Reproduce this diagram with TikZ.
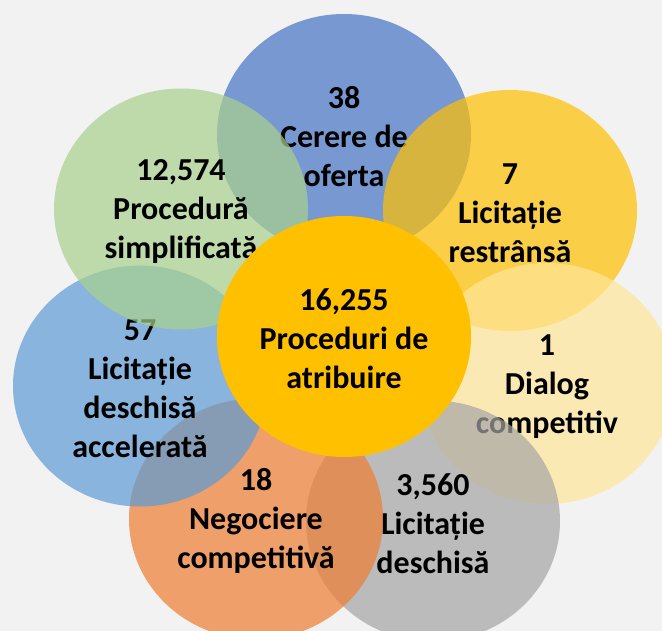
\documentclass[tikz,border=0pt]{standalone}
\usepackage{fontspec}
\setmainfont{Carlito}
\usetikzlibrary{shapes.geometric}
\definecolor{bg}{HTML}{F2F2F2}
\definecolor{cBlue}{HTML}{4472C4}
\definecolor{cGreen}{HTML}{A9D18E}
\definecolor{cGold}{HTML}{FFC000}
\definecolor{cPale}{HTML}{FFE699}
\definecolor{cSky}{HTML}{5B9BD5}
\definecolor{cOrange}{HTML}{ED7D31}
\definecolor{cGray}{HTML}{A5A5A5}
\newcommand\petaltop{\rule{0pt}{27pt}}
\begin{document}
\begin{tikzpicture}[x=1pt,y=-1pt,
  petal/.style={ellipse, minimum width=254pt, minimum height=241pt, inner sep=0pt,
    fill opacity=0.7, text opacity=1, align=center, text=black,
    font=\fontsize{32}{39}\selectfont\bfseries}]
\useasboundingbox (0,0) rectangle (662,631);
\clip (0,0) rectangle (662,631);
\fill[bg] (0,0) rectangle (662,631);
\node[petal, fill=cBlue] (cerere) at (344,134.5) {\petaltop 38\\Cerere de\\oferta};
\node[petal, fill=cGold] (restransa) at (510,210.5) {\petaltop 7\\Licitație\\restrânsă};
\node[petal, fill=cPale] (dialog) at (547,383.5) {\petaltop 1\\Dialog\\competitiv};
\node[petal, fill=cGray] (deschisa) at (433,521) {\petaltop 3,560\\Licitație\\deschisă};
\node[petal, fill=cOrange] (negociere) at (256,519) {\petaltop 18\\Negociere\\competitivă};
\node[petal, fill=cSky] (accelerata) at (140,386) {\petaltop 57\\Licitație\\deschisă\\accelerată};
\node[petal, fill=cGreen] (simplificata) at (181,209) {\petaltop 12,574\\Procedură\\simplificată};
\node[petal, fill=cGold, fill opacity=1] (total) at (344,336.5) {\petaltop 16,255\\Proceduri de\\atribuire};
\end{tikzpicture}
\end{document}
